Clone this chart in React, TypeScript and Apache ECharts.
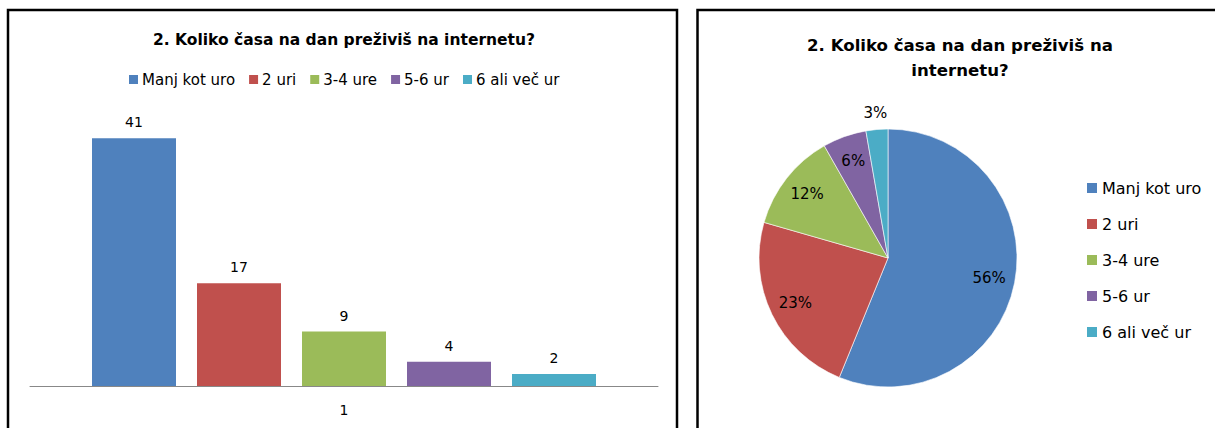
import React, { useEffect, useRef } from "react";
import * as echarts from "echarts";

const categories = ["Manj kot uro", "2 uri", "3-4 ure", "5-6 ur", "6 ali več ur"];
const values = [41, 17, 9, 4, 2];
const colors = ["#4F81BD", "#C0504D", "#9BBB59", "#8064A2", "#4BACC6"];
const xCategories = ["1"];
const barTitle = "2. Koliko časa na dan preživiš na internetu?";
const pieTitle = "2. Koliko časa na dan preživiš na\ninternetu?";

const FONT = "'DejaVu Sans', sans-serif";

export default function App() {
  const ref = useRef<HTMLDivElement>(null);
  useEffect(() => {
    if (!ref.current) return;
    const chart = echarts.init(ref.current, undefined, { renderer: "svg" });
    const total = values.reduce((a, b) => a + b, 0);
    const barSeries = categories.map((name, i) => ({
      type: "bar",
      name,
      data: [values[i]],
      barWidth: 84,
      barGap: "25%",
      itemStyle: { color: colors[i] },
      label: {
        show: true,
        position: "top",
        distance: 9,
        fontFamily: FONT,
        fontSize: 14,
        color: "#000",
      },
      silent: true,
    }));
    const pieData = categories.map((name, i) => ({
      name,
      value: values[i],
      itemStyle: { color: colors[i] },
    }));
    chart.setOption({
      animation: false,
      textStyle: { fontFamily: FONT },
      graphic: [
        {
          type: "rect",
          shape: { x: 8, y: 10, width: 669, height: 440 },
          style: { fill: "none", stroke: "#000", lineWidth: 2.5 },
          z: 100,
        },
        {
          type: "rect",
          shape: { x: 697.5, y: 10, width: 600, height: 440 },
          style: { fill: "none", stroke: "#000", lineWidth: 2.5 },
          z: 100,
        },
      ],
      title: [
        {
          text: barTitle,
          left: 344,
          top: 31,
          padding: 0,
          textAlign: "center",
          textStyle: { fontFamily: FONT, fontSize: 15.5, fontWeight: "bold", color: "#000", lineHeight: 18 },
        },
        {
          text: pieTitle,
          left: 960,
          top: 33,
          padding: 0,
          textAlign: "center",
          textStyle: { fontFamily: FONT, fontSize: 16.6, fontWeight: "bold", color: "#000", lineHeight: 25 },
        },
      ],
      legend: [
        {
          data: categories,
          orient: "horizontal",
          left: 129,
          top: 72,
          padding: 0,
          icon: "rect",
          itemWidth: 9,
          itemHeight: 9,
          itemGap: 14,
          selectedMode: false,
          textStyle: { fontFamily: FONT, fontSize: 15, color: "#000", lineHeight: 14, padding: [0, 0, 0, -1] },
        },
        {
          data: categories,
          orient: "vertical",
          left: 1087,
          top: 180,
          padding: 0,
          icon: "rect",
          itemWidth: 10,
          itemHeight: 10,
          itemGap: 20,
          selectedMode: false,
          textStyle: { fontFamily: FONT, fontSize: 16, color: "#000", lineHeight: 15 },
        },
      ],
      grid: { left: 30, right: 557, top: 114, bottom: 42 },
      xAxis: {
        type: "category",
        data: xCategories,
        axisLine: { lineStyle: { color: "#888", width: 1 } },
        axisTick: { show: false },
        axisLabel: { fontFamily: FONT, fontSize: 14, color: "#000", margin: 17 },
      },
      yAxis: { type: "value", min: 0, max: 45, show: false, splitLine: { show: false } },
      series: [
        ...barSeries,
        {
          type: "pie",
          name: "pie",
          center: [888, 258],
          radius: [0, 129],
          startAngle: 90,
          clockwise: true,
          silent: true,
          label: { show: false },
          labelLine: { show: false },
          itemStyle: { borderColor: "#fff", borderWidth: 0.6 },
          data: pieData,
        },
        {
          type: "pie",
          name: "pieLabelsInner",
          center: [888, 258],
          radius: [71, 129],
          startAngle: 90,
          clockwise: true,
          silent: true,
          percentPrecision: 0,
          labelLine: { show: false },
          data: categories.map((name, i) => ({
            name,
            value: values[i],
            itemStyle: { color: "rgba(0,0,0,0)" },
            label: {
              show: values[i] / total >= 0.04,
              position: "inside",
              formatter: "{d}%",
              fontFamily: FONT,
              fontSize: 15,
              color: "#000",
            },
          })),
        },
        {
          type: "pie",
          name: "pieLabelsOuter",
          center: [888, 258],
          radius: [129, 157],
          startAngle: 90,
          clockwise: true,
          silent: true,
          percentPrecision: 0,
          labelLine: { show: false },
          data: categories.map((name, i) => ({
            name,
            value: values[i],
            itemStyle: { color: "rgba(0,0,0,0)" },
            label: {
              show: values[i] / total < 0.04,
              position: "inside",
              formatter: "{d}%",
              fontFamily: FONT,
              fontSize: 15,
              color: "#000",
            },
          })),
        },
      ],
    });
    return () => chart.dispose();
  }, []);
  return (
    <div
      ref={ref}
      style={{ position: "fixed", left: 0, top: 0, width: 1215, height: 428, background: "#fff" }}
    />
  );
}
